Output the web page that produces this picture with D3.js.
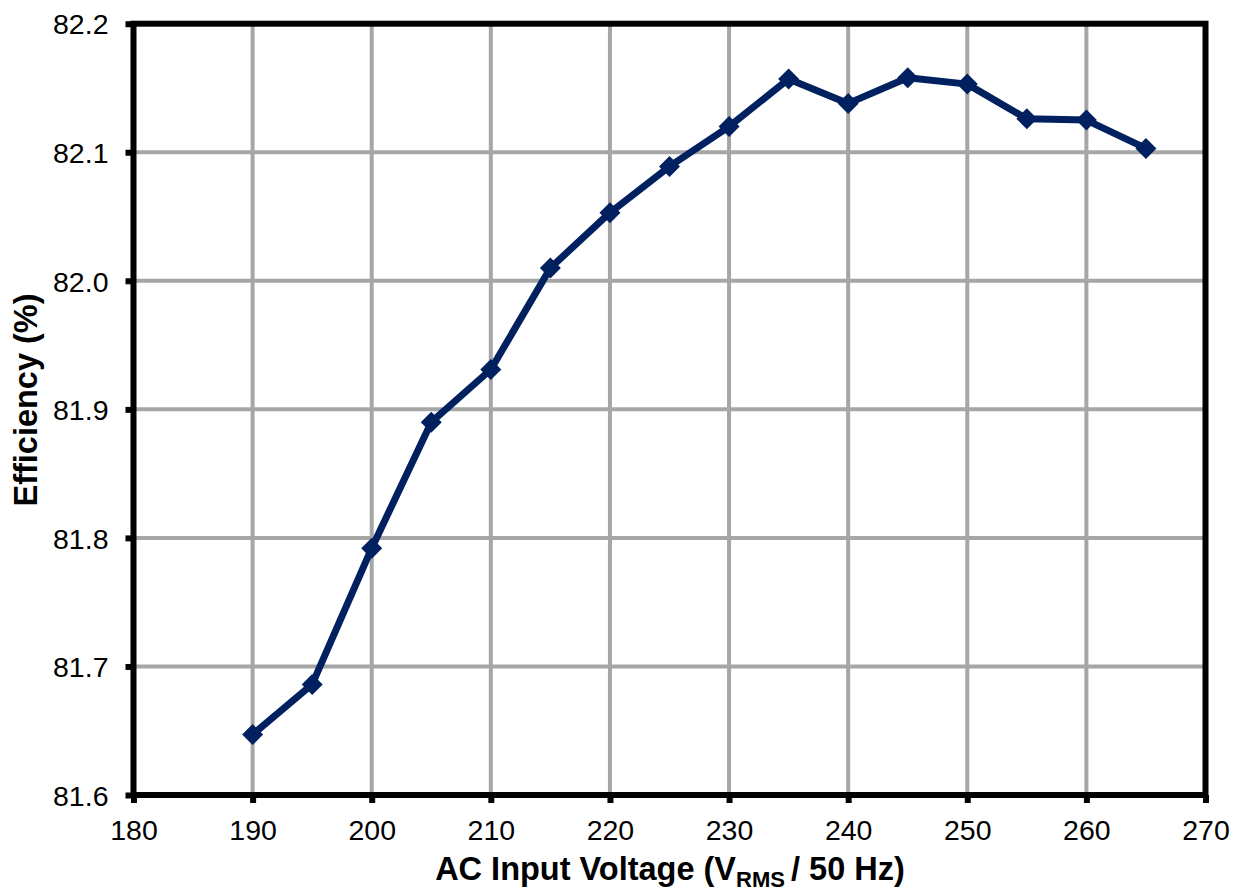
<!DOCTYPE html>
<html>
<head>
<meta charset="utf-8">
<script src="https://cdn.jsdelivr.net/npm/d3@7"></script>
<style>
  body { margin: 0; background: #fff; }
  svg { display: block; font-family: "Liberation Sans", Arial, sans-serif; }
</style>
</head>
<body>
<svg id="chart" width="1233" height="892"></svg>
<script>
const voltages = [190, 195, 200, 205, 210, 215, 220, 225, 230, 235, 240, 245, 250, 255, 260, 265];
const efficiency = [81.647, 81.686, 81.792, 81.890, 81.931, 82.010, 82.053, 82.089, 82.120, 82.157, 82.138, 82.158, 82.153, 82.126, 82.125, 82.103];
const xTicks = [180, 190, 200, 210, 220, 230, 240, 250, 260, 270];
const yTicks = [81.6, 81.7, 81.8, 81.9, 82.0, 82.1, 82.2];

const svg = d3.select("#chart");
const plotLeft = 133.5, plotRight = 1205.5, plotTop = 23.7, plotBottom = 795;

const x = d3.scaleLinear().domain([180, 270]).range([plotLeft, plotRight]);
const y = d3.scaleLinear().domain([81.6, 82.2]).range([plotBottom, plotTop]);

// grid
svg.append("g").selectAll("line").data(xTicks.slice(1, -1)).join("line")
  .attr("x1", d => x(d)).attr("x2", d => x(d))
  .attr("y1", plotTop).attr("y2", plotBottom)
  .attr("stroke", "#a6a6a6").attr("stroke-width", 4);
svg.append("g").selectAll("line").data(yTicks.slice(1, -1)).join("line")
  .attr("x1", plotLeft).attr("x2", plotRight)
  .attr("y1", d => y(d)).attr("y2", d => y(d))
  .attr("stroke", "#a6a6a6").attr("stroke-width", 4);

// axes
const xAxis = d3.axisBottom(x).tickValues(xTicks).tickSize(8).tickPadding(17).tickFormat(d3.format("d"));
const yAxis = d3.axisLeft(y).tickValues(yTicks).tickSize(8).tickPadding(17).tickFormat(d3.format(".1f"));

const gx = svg.append("g").attr("transform", `translate(0,${plotBottom})`).call(xAxis);
const gy = svg.append("g").attr("transform", `translate(${plotLeft},0)`).call(yAxis);
[gx, gy].forEach(g => {
  g.select(".domain").remove();
  g.selectAll(".tick line").attr("stroke", "#000").attr("stroke-width", 6);
  g.selectAll(".tick text").attr("fill", "#000").attr("font-size", 28.5)
    .attr("font-family", "'Liberation Sans', Arial, sans-serif");
});
gx.selectAll(".tick text").attr("dy", "0.71em");
gy.selectAll(".tick text").attr("dy", "0.36em");

// frame
svg.append("rect").attr("x", plotLeft).attr("y", plotTop)
  .attr("width", plotRight - plotLeft).attr("height", plotBottom - plotTop)
  .attr("fill", "none").attr("stroke", "#000").attr("stroke-width", 6);

// line
const data = voltages.map((v, i) => ({ v, e: efficiency[i] }));
svg.append("path").datum(data)
  .attr("d", d3.line().x(d => x(d.v)).y(d => y(d.e)))
  .attr("fill", "none").attr("stroke", "#002060").attr("stroke-width", 7)
  .attr("stroke-linejoin", "round");

// markers
svg.append("g").selectAll("path").data(data).join("path")
  .attr("transform", d => `translate(${x(d.v)},${y(d.e)})`)
  .attr("d", "M0,-10.5L10.5,0L0,10.5L-10.5,0Z")
  .attr("fill", "#002060");

// titles
const xt = svg.append("text")
  .attr("x", 670).attr("y", 880)
  .attr("text-anchor", "middle").attr("font-weight", "bold").attr("font-size", 32.5);
xt.append("tspan").text("AC Input Voltage (V");
xt.append("tspan").text("RMS ").attr("font-size", 22).attr("dy", 7);
xt.append("tspan").text("/ 50 Hz)").attr("dy", -7);

svg.append("text")
  .attr("transform", `translate(37,400) rotate(-90)`)
  .attr("text-anchor", "middle").attr("font-weight", "bold").attr("font-size", 32.5)
  .text("Efficiency (%)");
</script>
</body>
</html>
